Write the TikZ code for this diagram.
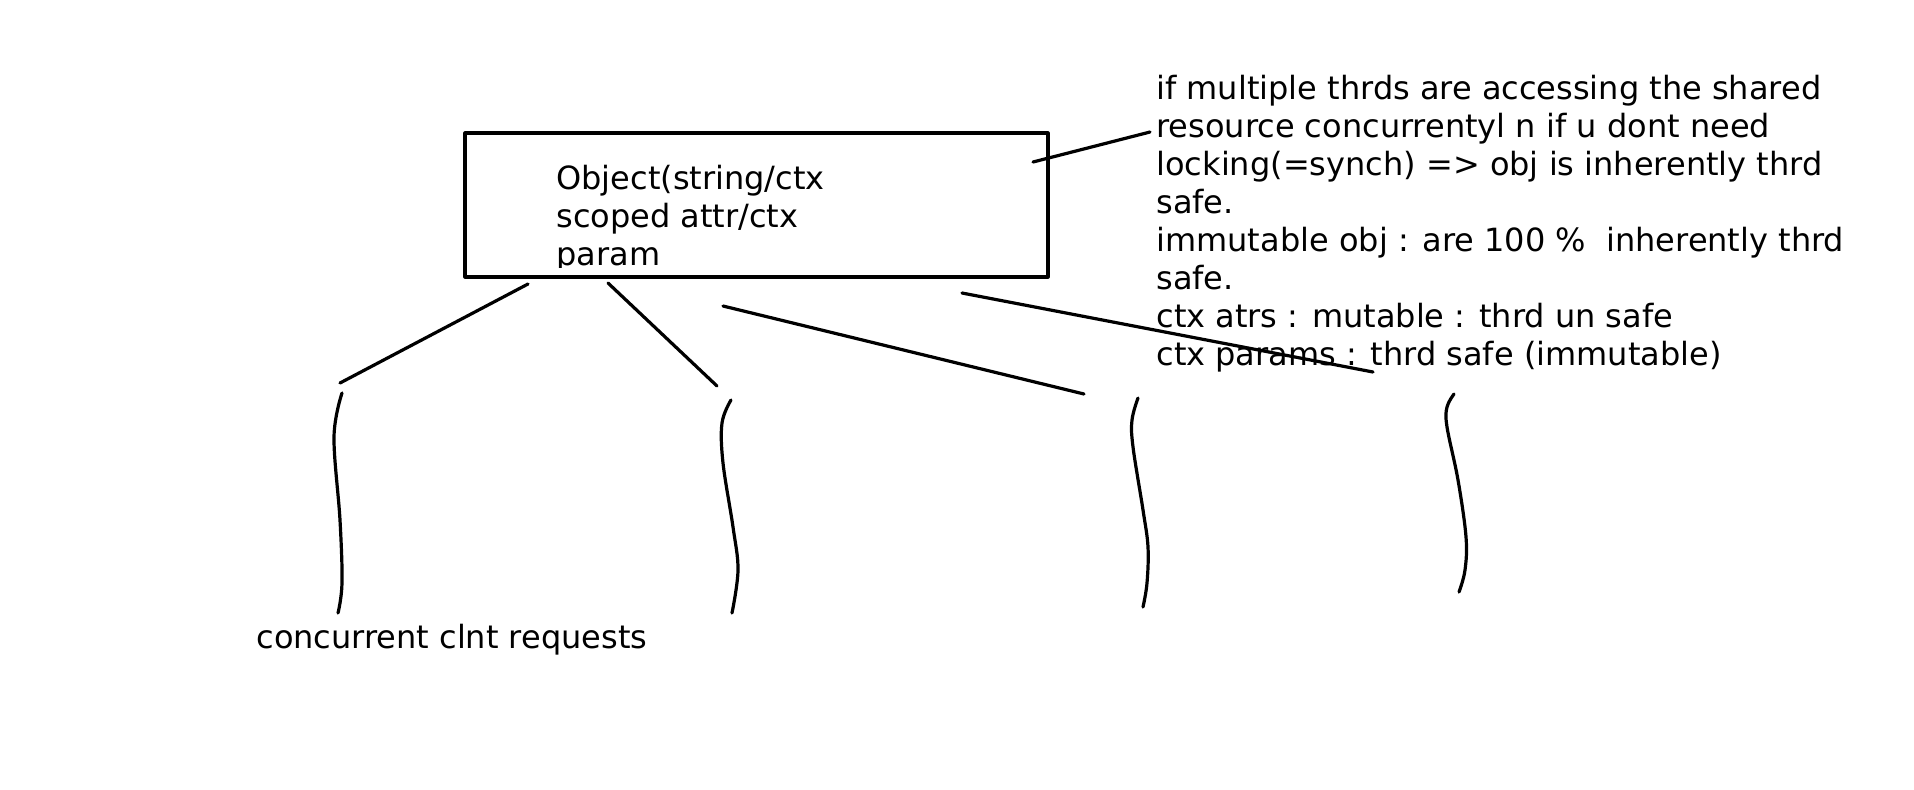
\documentclass[tikz,border=0pt]{standalone}
\usepackage{fontspec}
\setmainfont{DejaVu Sans}
\usetikzlibrary{calc, positioning}

\begin{document}
\begin{tikzpicture}[line cap=round,line join=round,x=0.5pt,y=-0.5pt,
  every node/.style={font=\fontsize{16}{19}\selectfont, inner sep=0pt, align=left},
  pen/.style={line width=1.6pt}]
\useasboundingbox (0,0) rectangle (1914,789);

% --- corners of the object box ---
\coordinate (Box_NW) at (465,133);
\coordinate (Box_SE) at (1048,277);

% --- end points of the hand drawn strokes ---
\coordinate (Call_A) at (1033,162);
\coordinate (Call_B) at (1150,132);
\coordinate (L1_A) at (528,284);
\coordinate (L1_B) at (340,383);
\coordinate (L2_A) at (608,283);
\coordinate (L2_B) at (717,386);
\coordinate (L3_A) at (723,306);
\coordinate (L3_B) at (1084,394);
\coordinate (L4_A) at (962,293);
\coordinate (L4_B) at (1373,372);

% --- box and its text ---
\draw [pen] (Box_NW) rectangle (Box_SE);
\begin{scope}
\clip (465,133) rectangle (1048,267);
\node (obj) [anchor=north west] at (556,165) {Object(string/ctx\\scoped attr/ctx\\param};
\end{scope}

% --- notes on the right ---
\node (notes) [anchor=north west] at (1156,75) {if multiple thrds are accessing the shared\\
resource concurrentyl n if u dont need\\
locking(=synch) => obj is inherently thrd\\
safe.\\
immutable obj : are 100 \%~~inherently thrd\\
safe.\\
ctx atrs : mutable : thrd un safe\\
ctx params : thrd safe (immutable)};

% --- strokes from the box ---
\draw [pen] (Call_A) -- (Call_B);
\draw [pen] (L1_A) -- (L1_B);
\draw [pen] (L2_A) -- (L2_B);
\draw [pen] (L3_A) -- (L3_B);
\draw [pen] (L4_A) -- (L4_B);

% --- client request threads (wavy) ---
\draw [pen] plot [smooth, tension=0.6] coordinates {(342,393) (334,437) (340,520) (342,583) (338,613)};
\draw [pen] plot [smooth, tension=0.6] coordinates {(731,400) (722,423) (723,463) (733,527) (738,570) (732,613)};
\draw [pen] plot [smooth, tension=0.6] coordinates {(1138,398) (1132,420) (1133,447) (1143,510) (1148,547) (1147,583) (1143,607)};
\draw [pen] plot [smooth, tension=0.6] coordinates {(1454,394) (1447,407) (1447,427) (1458,480) (1466,537) (1465,570) (1459,592)};

\node (clnt) [anchor=base west] at (256,648) {concurrent clnt requests};

\end{tikzpicture}
\end{document}
